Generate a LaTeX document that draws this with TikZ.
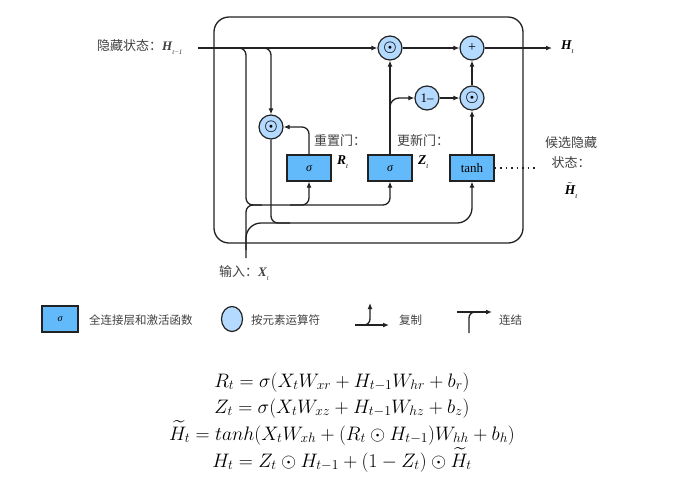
\RequirePackage{fix-cm}
\documentclass[tikz,border=0pt]{standalone}
\usepackage{fontspec}
\usepackage{amsmath}
\newfontfamily\cjk{Noto Sans CJK SC}
\newfontfamily\timesf{Liberation Serif}
\usetikzlibrary{arrows.meta,shapes.geometric}
\definecolor{linec}{RGB}{34,34,34}
\definecolor{boxblue}{RGB}{98,186,250}
\definecolor{opblue}{RGB}{180,218,255}
\newcommand\hsym[2]{{\timesf\bfseries\itshape #1}\raisebox{-4pt}{\timesf\itshape\fontsize{7}{7}\selectfont #2}}
\begin{document}
\begin{tikzpicture}[x=1pt,y=-1pt,
  ln/.style={draw=linec,line width=1.3pt},
  arr/.style={ln,-{Latex[length=6pt,width=5pt]}},
  rc/.style={rounded corners=7pt},
  gate/.style={draw=linec,line width=1.2pt,fill=boxblue,minimum width=44pt,minimum height=26pt,inner sep=0pt,font=\timesf\fontsize{12}{12}\selectfont},
  op/.style={circle,draw=linec,line width=1.2pt,fill=opblue,minimum size=24pt,inner sep=0pt},
  lab/.style={font=\cjk\fontsize{13}{15}\selectfont,inner sep=0pt,text=black!75},
  leg/.style={font=\cjk\fontsize{11.5}{13}\selectfont,inner sep=0pt,text=black!75},
  sym/.style={inner sep=0pt,font=\fontsize{13.5}{15}\selectfont},
  eq/.style={inner sep=0pt,anchor=base,font=\fontsize{19.5}{23}\selectfont}]
\useasboundingbox (0,0) rectangle (697,488);

% outer cell
\node[draw=linec,line width=1.3pt,rounded corners=15pt,minimum width=309pt,minimum height=226pt,inner sep=0pt] (cell) at (368.5,130) {};

% operator circles
\node[op] (mulA) at (390,48) {\fontsize{15}{15}\selectfont$\boldsymbol{\odot}$};
\node[op] (plus) at (472,48) {\timesf\fontsize{14}{14}\selectfont +};
\node[op] (onem) at (427,98) {\timesf\fontsize{13}{13}\selectfont 1–};
\node[op] (mulB) at (472,98) {\fontsize{15}{15}\selectfont$\boldsymbol{\odot}$};
\node[op] (mulR) at (271,127) {\fontsize{15}{15}\selectfont$\boldsymbol{\odot}$};

% gates
\node[gate] (boxR) at (309,168) {\itshape σ};
\node[gate] (boxZ) at (390,168) {\itshape σ};
\node[gate] (boxH) at (472,168) {\fontsize{13}{13}\selectfont tanh};

% labels
\node[lab,anchor=west] (hlab) at (97,47) {隐藏状态：\hsym{H}{t−1}};
\coordinate (hin) at (198,48);
\node[sym,anchor=west] (htlab) at (561,47) {\hsym{H}{t}};
\coordinate (hout) at (552,48);
\node[lab,anchor=west] (rlab) at (314,141) {重置门：};
\node[lab,anchor=west] (zlab) at (397,141) {更新门：};
\node[sym,anchor=west] (rt) at (337,162) {\hsym{R}{t}};
\node[sym,anchor=west] (zt) at (418,162) {\hsym{Z}{t}};
\node[lab] (c1) at (571,143) {候选隐藏};
\node[lab] (c2) at (571,163) {状态：};
\node[sym] (c3) at (571,191) {$\tilde{\mbox{\timesf\bfseries\itshape H}}$\raisebox{-4pt}{\timesf\itshape\fontsize{7}{7}\selectfont t}};
\node[lab,anchor=west] (xlab) at (219,273) {输入：\hsym{X}{t}};
\coordinate (xin) at (246,258);
\coordinate (dotend) at (537,168);

% H_{t-1} main line
\draw[arr] (hin) -- (mulA.west);
% branch to concat (R,Z)
\draw[ln,rc] (236,48) -- (246,48) -- (246,205) -- (262,205);
% branch to reset multiply
\draw[arr,rc] (258,48) -| (mulR.north);
% X_t line
\draw[arr,rc] (xin) -- (246,205) -| (boxR.south);
\draw[arr,rc] (290,205) -| (boxZ.south);
\draw[arr,rounded corners=15pt] (246,250) -- (246,223) -| (boxH.south);
% reset multiply output into concat
\draw[ln,rc] (mulR.south) |- (290,223);
% reset gate to multiply
\draw[arr,rc] (boxR.north) |- (mulR.east);
% update gate
\draw[arr] (boxZ.north) -- (mulA.south);
\draw[arr,rounded corners=9pt] (390,125) |- (onem.west);
\draw[arr] (onem.east) -- (mulB.west);
\draw[arr] (boxH.north) -- (mulB.south);
\draw[arr] (mulB.north) -- (plus.south);
\draw[arr] (mulA.east) -- (plus.west);
\draw[arr] (plus.east) -- (hout);
\draw[draw=linec,line width=1.4pt,dash pattern=on 1.5pt off 4pt] (boxH.east) -- (dotend);

% legend
\node[gate,minimum width=36pt,minimum height=26pt,font=\timesf\fontsize{10}{10}\selectfont] (lgbox) at (60,319) {\itshape σ};
\node[leg,anchor=west] (lgboxt) at (89,320) {全连接层和激活函数};
\node[ellipse,draw=linec,line width=1.2pt,fill=opblue,minimum width=21pt,minimum height=25pt,inner sep=0pt] (lgop) at (232,319) {};
\node[leg,anchor=west] (lgopt) at (251,320) {按元素运算符};
\coordinate (cpA) at (355,325);
\coordinate (cpB) at (389,325);
\coordinate (cpC) at (370,303);
\draw[arr] (cpA) -- (cpB);
\draw[arr,rounded corners=6pt] (cpA) -| (cpC);
\node[leg,anchor=west] (lgcp) at (399,320) {复制};
\coordinate (ccA) at (457,312);
\coordinate (ccB) at (492,312);
\coordinate (ccC) at (469,333);
\draw[arr] (ccA) -- (ccB);
\draw[ln,rounded corners=6pt] (ccC) |- (480,312);
\node[leg,anchor=west] (lgcc) at (499,320) {连结};

% equations
\node[eq] (eq1) at (342,387) {$R_t = \sigma(X_tW_{xr} + H_{t-1}W_{hr} + b_r)$};
\node[eq] (eq2) at (342,413) {$Z_t = \sigma(X_tW_{xz} + H_{t-1}W_{hz} + b_z)$};
\node[eq] (eq3) at (342,440) {$\widetilde{H}_t = tanh(X_tW_{xh} + (R_t \odot H_{t-1})W_{hh} + b_h)$};
\node[eq] (eq4) at (342,467) {$H_t = Z_t \odot H_{t-1} + (1 - Z_t) \odot \widetilde{H}_t$};
\end{tikzpicture}
\end{document}
